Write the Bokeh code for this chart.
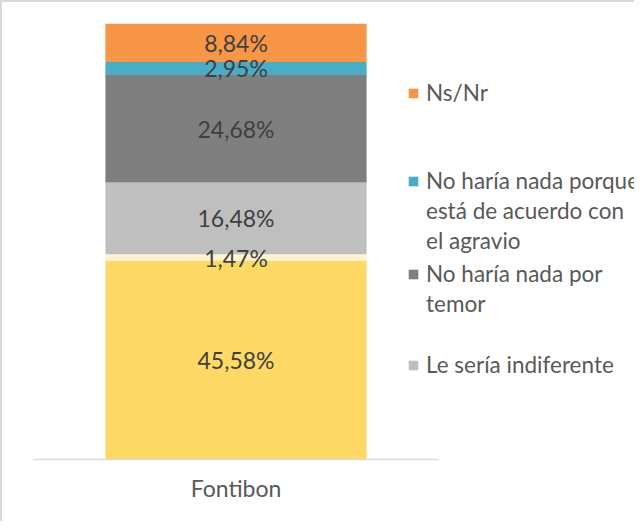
from bokeh.plotting import figure
from bokeh.models import ColumnDataSource, Range1d, Legend, LegendItem, FixedTicker
from bokeh.core.properties import value
from bokeh.embed import file_html
from bokeh.resources import INLINE

# ---- data (bottom to top of the stacked bar) ----
categories = ["Fontibon"]
series_keys = ["s1", "s2", "s3", "s4", "s5", "s6"]
series_values = [45.58, 1.47, 16.48, 24.68, 2.95, 8.84]
series_colors = ["#FFD966", "#FFF2CC", "#BFBFBF", "#7F7F7F", "#4BACC6", "#F79646"]
# legend entries visible in the reference (top to bottom): wrapped lines and the series index
legend_entries = [
    (["Ns/Nr"], 5),
    (["No haría nada porque", "está de acuerdo con", "el agravio"], 4),
    (["No haría nada por", "temor"], 3),
    (["Le sería indiferente"], 2),
]

FONT = "Lato"

W, H = 634, 521
LEFT, TOP, BOTTOM = 33, 23, 62
CAT_PX = 405  # pixel width of one category slot

cat_pos = list(range(len(categories)))
data = {"x": cat_pos}
for k, v in zip(series_keys, series_values):
    data[k] = [v]
source = ColumnDataSource(data)

frame_w = W - LEFT
x_end = -0.5 + frame_w / CAT_PX
p = figure(x_range=Range1d(-0.5, x_end), y_range=Range1d(0, 100),
           width=W, height=H, output_backend="svg", toolbar_location=None,
           min_border_left=LEFT, min_border_right=0, min_border_top=TOP,
           min_border_bottom=BOTTOM)

renderers = p.vbar_stack(series_keys, x="x", width=0.645, source=source,
                         color=series_colors, line_color=None)

# data labels, centred in each segment
cum = 0.0
lx, ly, lt = [], [], []
for v in series_values:
    lx.append(cat_pos[0])
    ly.append(cum + v / 2)
    lt.append(f"{v:.2f}%".replace(".", ","))
    cum += v
p.text(x=lx, y=ly, text=lt, text_align="center", text_baseline="middle",
       text_font=value(FONT), text_font_size="23px", text_color="#404040")

# axes / grid
p.yaxis.visible = False
p.xgrid.grid_line_color = None
p.ygrid.grid_line_color = None
p.xaxis.ticker = FixedTicker(ticks=cat_pos)
p.xaxis.major_label_overrides = {i: c for i, c in zip(cat_pos, categories)}
p.xaxis.bounds = (-0.5, len(categories) - 0.5)
p.xaxis.axis_line_color = "#D9D9D9"
p.xaxis.axis_line_width = 1.5
p.xaxis.major_tick_line_color = None
p.xaxis.minor_tick_line_color = None
p.xaxis.major_label_text_font = FONT
p.xaxis.major_label_text_font_size = "23px"
p.xaxis.major_label_text_color = "#595959"
p.xaxis.major_label_standoff = 8
p.outline_line_color = None
p.border_fill_color = None
p.styles = {"box-shadow": "inset 2px 0px 0 0 #D9D9D9, inset 0px 2px 0 0 #D9D9D9"}

# legend: one block per line, placed like the reference
LEG_X = 374
first_line_offsets = [353, 265, 172, 81]
LINE_STEP = 30
for (lines, si), y0 in zip(legend_entries, first_line_offsets):
    for j, line in enumerate(lines):
        has_glyph = j == 0
        lg = Legend(items=[LegendItem(label=line, renderers=[renderers[si]])],
                    location=(LEG_X, y0 - j * LINE_STEP), orientation="vertical",
                    border_line_color=None, background_fill_alpha=0,
                    padding=0, margin=0, spacing=0,
                    glyph_width=12 if has_glyph else 0, glyph_height=12,
                    label_standoff=7 if has_glyph else 19,
                    label_text_font=FONT, label_text_font_size="22.5px",
                    label_text_color="#595959")
        p.add_layout(lg, "center")

open("out.html", "w").write(file_html(p, INLINE))
